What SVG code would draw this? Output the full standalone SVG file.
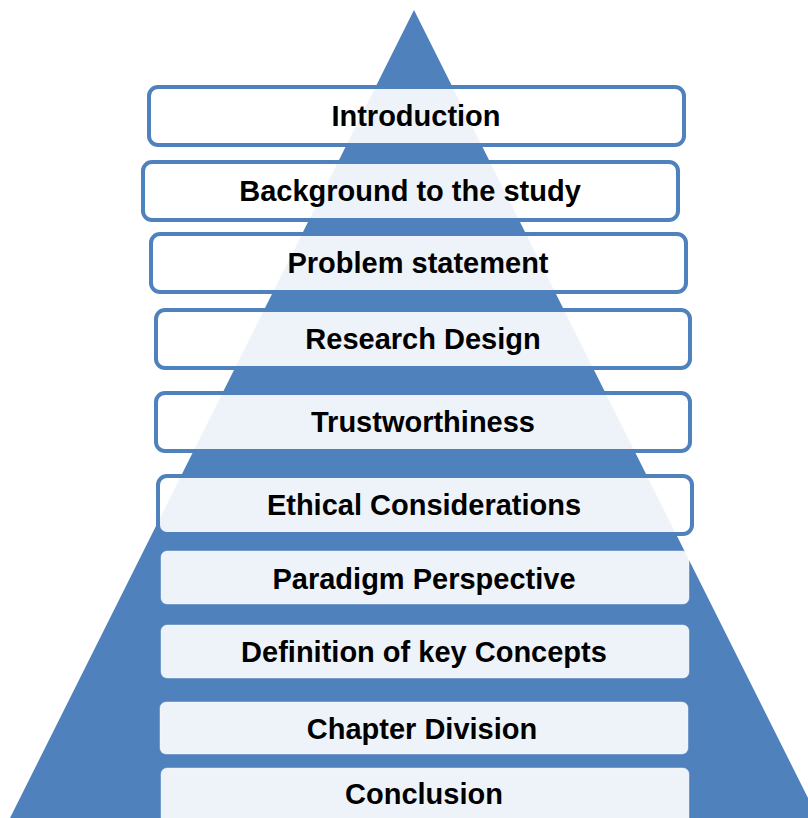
<svg xmlns="http://www.w3.org/2000/svg" width="808" height="818" viewBox="0 0 808 818">
<style>
.tri{fill:#4F81BD}
.top{fill:#FFFFFF;fill-opacity:0.9;stroke:#4F81BD;stroke-width:4}
.low{fill:#FFFFFF;fill-opacity:0.9;stroke:#FFFFFF;stroke-opacity:0.4;stroke-width:1}
.lbl{font-family:"Liberation Sans",Arial,sans-serif;font-weight:bold;font-size:29px;fill:#000000;text-anchor:middle}
</style>
<rect width="808" height="818" fill="#FFFFFF"/>
<g id="pyramid"><polygon class="tri" points="414,10 10,818 818,818"/></g>
<g id="connectors"></g>
<g id="n1"><rect class="top" x="149" y="87" width="535" height="58" rx="9"/><text class="lbl" x="416" y="126">Introduction</text></g>
<g id="n2"><rect class="top" x="143" y="162" width="535" height="58" rx="9"/><text class="lbl" x="410" y="201">Background to the study</text></g>
<g id="n3"><rect class="top" x="151" y="234" width="535" height="58" rx="9"/><text class="lbl" x="418" y="273">Problem statement</text></g>
<g id="n4"><rect class="top" x="156" y="310" width="534" height="58" rx="9"/><text class="lbl" x="423" y="349">Research Design</text></g>
<g id="n5"><rect class="top" x="156" y="393" width="534" height="58" rx="9"/><text class="lbl" x="423" y="432">Trustworthiness</text></g>
<g id="n6"><rect class="top" x="158" y="476" width="534" height="58" rx="9"/><text class="lbl" x="424" y="515">Ethical Considerations</text></g>
<g id="n7"><rect class="low" x="161" y="551" width="528" height="53" rx="6"/><text class="lbl" x="424" y="589">Paradigm Perspective</text></g>
<g id="n8"><rect class="low" x="161" y="625" width="528" height="53" rx="6"/><text class="lbl" x="424" y="662">Definition of key Concepts</text></g>
<g id="n9"><rect class="low" x="160" y="702" width="528" height="52" rx="6"/><text class="lbl" x="422" y="739">Chapter Division</text></g>
<g id="n10"><rect class="low" x="161" y="768" width="528" height="60" rx="6"/><text class="lbl" x="424" y="804">Conclusion</text></g>
</svg>
